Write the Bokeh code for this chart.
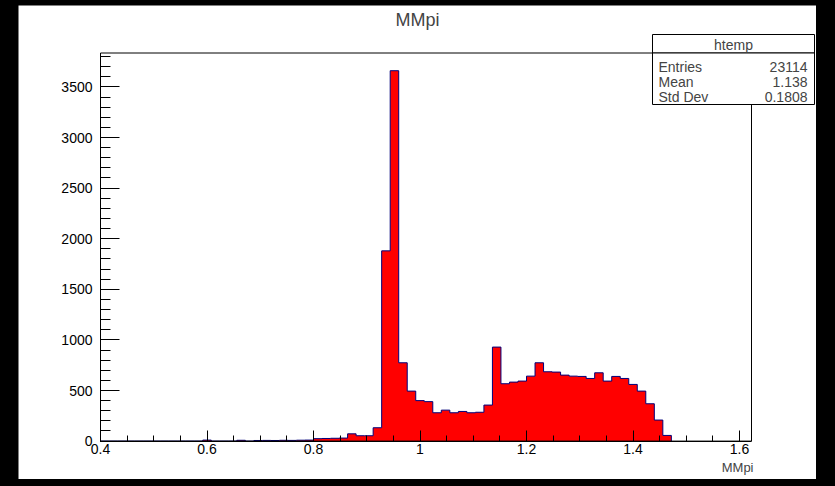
import numpy as np
from bokeh.plotting import figure
from bokeh.models import (Range1d, Label, BoxAnnotation, SingleIntervalTicker,
                          NumeralTickFormatter, GlobalInlineStyleSheet)
from bokeh.embed import file_html
from bokeh.resources import INLINE

# ---- data ----
bin_start = 0.4
bin_width = 0.016
counts = [0, 0, 0, 0, 0, 0, 0, 0, 0, 0, 0, 0,
          10, 0, 0, 0, 8, 0,
          6, 7, 6, 8, 7, 9, 10,
          24, 26, 28, 30,
          72, 53, 53, 132,
          1880, 3660, 774, 494, 400, 390, 280, 306, 280, 293, 280, 285, 356, 929,
          567, 583, 593, 642, 774,
          685, 682, 652, 642, 639, 619, 675, 593, 639, 619,
          560, 494, 369, 208, 56]
x_label = "MMpi"
title_text = "MMpi"
stats_name = "htemp"
stats_keys = ["Entries", "Mean", "Std Dev"]
stats_vals = ["23114", "1.138", "0.1808"]

# axis frame of the histogram (data units)
x_lo, x_hi = 0.4, 1.6225
y_lo, y_hi = 0.0, 3835.0

edges = bin_start + bin_width * np.arange(len(counts) + 1)
y_step = list(counts) + [0]

FONT = "Liberation Sans"
W, H = 798, 474
# pixel geometry of the histogram frame inside the canvas
fl, fr, ft, fb = 82.0, 733.0, 47.5, 435.6
sx = (x_hi - x_lo) / (fr - fl)
sy = (y_hi - y_lo) / (fb - ft)
xr = Range1d(x_lo - fl * sx, x_hi + (W - fr) * sx)
yr = Range1d(y_lo - (H - fb) * sy, y_hi + ft * sy)

p = figure(width=W, height=H, output_backend="svg", toolbar_location=None,
           x_range=xr, y_range=yr, min_border=0)
p.min_border_left = 0
p.min_border_right = 0
p.min_border_top = 0
p.min_border_bottom = 0
p.title.visible = False
p.stylesheets = [GlobalInlineStyleSheet(
    css="html, body { margin: 0 !important; background-color: #000000; } "
        "body { padding: 5px 0 0 18px !important; }")]
p.background_fill_color = "white"
p.border_fill_color = "white"
p.outline_line_color = None
p.xgrid.grid_line_color = None
p.ygrid.grid_line_color = None

# histogram fill and outline
p.varea_step(x=edges, y1=0, y2=y_step, step_mode="after", fill_color="#ff0000")
p.step(x=edges, y=y_step, mode="after", line_color="#00007a", line_width=1)

# frame box
p.add_layout(BoxAnnotation(left=x_lo, right=x_hi, bottom=y_lo, top=y_hi,
                           fill_color=None, line_color="black", line_width=1, line_alpha=1))

# axes placed at the frame edges
xa = p.xaxis[0]
xa.fixed_location = y_lo
xa.bounds = (x_lo, x_hi)
xa.ticker = SingleIntervalTicker(interval=0.2, num_minor_ticks=4)
xa.formatter = NumeralTickFormatter(format="0.[0]")
xa.major_tick_in = 11
xa.major_tick_out = 0
xa.minor_tick_in = 6
xa.minor_tick_out = 0
xa.major_label_standoff = 3
xa.axis_line_color = "black"
xa.major_label_text_font = FONT
xa.major_label_text_font_size = "14px"
xa.major_label_text_color = "black"

ya = p.yaxis[0]
ya.fixed_location = x_lo
ya.bounds = (y_lo, y_hi)
ya.ticker = SingleIntervalTicker(interval=500, num_minor_ticks=5)
ya.major_tick_in = 19
ya.major_tick_out = 0
ya.minor_tick_in = 10
ya.minor_tick_out = 0
ya.major_label_standoff = 8
ya.axis_line_color = "black"
ya.major_label_text_font = FONT
ya.major_label_text_font_size = "14px"
ya.major_label_text_color = "black"

# title and axis title
p.add_layout(Label(x=399, y=14, x_units="canvas", y_units="canvas", text=title_text,
                   text_font=FONT, text_font_size="18px", text_align="center",
                   text_baseline="middle"))
p.add_layout(Label(x=735, y=462, x_units="canvas", y_units="canvas", text=x_label,
                   text_font=FONT, text_font_size="13px", text_align="right",
                   text_baseline="middle"))

# stats box
p.add_layout(BoxAnnotation(left=634, right=796, top=29, bottom=47.5,
                           left_units="canvas", right_units="canvas",
                           top_units="canvas", bottom_units="canvas",
                           fill_color="white", fill_alpha=1, line_color="black",
                           line_alpha=1, line_width=1))
p.add_layout(BoxAnnotation(left=634, right=796, top=47.5, bottom=99,
                           left_units="canvas", right_units="canvas",
                           top_units="canvas", bottom_units="canvas",
                           fill_color="white", fill_alpha=1, line_color="black",
                           line_alpha=1, line_width=1))
p.add_layout(Label(x=715, y=39, x_units="canvas", y_units="canvas", text=stats_name,
                   text_font=FONT, text_font_size="14px", text_align="center",
                   text_baseline="middle"))
for i, (k, v) in enumerate(zip(stats_keys, stats_vals)):
    yy = 61.7 + 15 * i
    p.add_layout(Label(x=640, y=yy, x_units="canvas", y_units="canvas", text=k,
                       text_font=FONT, text_font_size="14px", text_align="left",
                       text_baseline="middle"))
    p.add_layout(Label(x=789, y=yy, x_units="canvas", y_units="canvas", text=v,
                       text_font=FONT, text_font_size="14px", text_align="right",
                       text_baseline="middle"))

open("out.html", "w").write(file_html(p, INLINE))
